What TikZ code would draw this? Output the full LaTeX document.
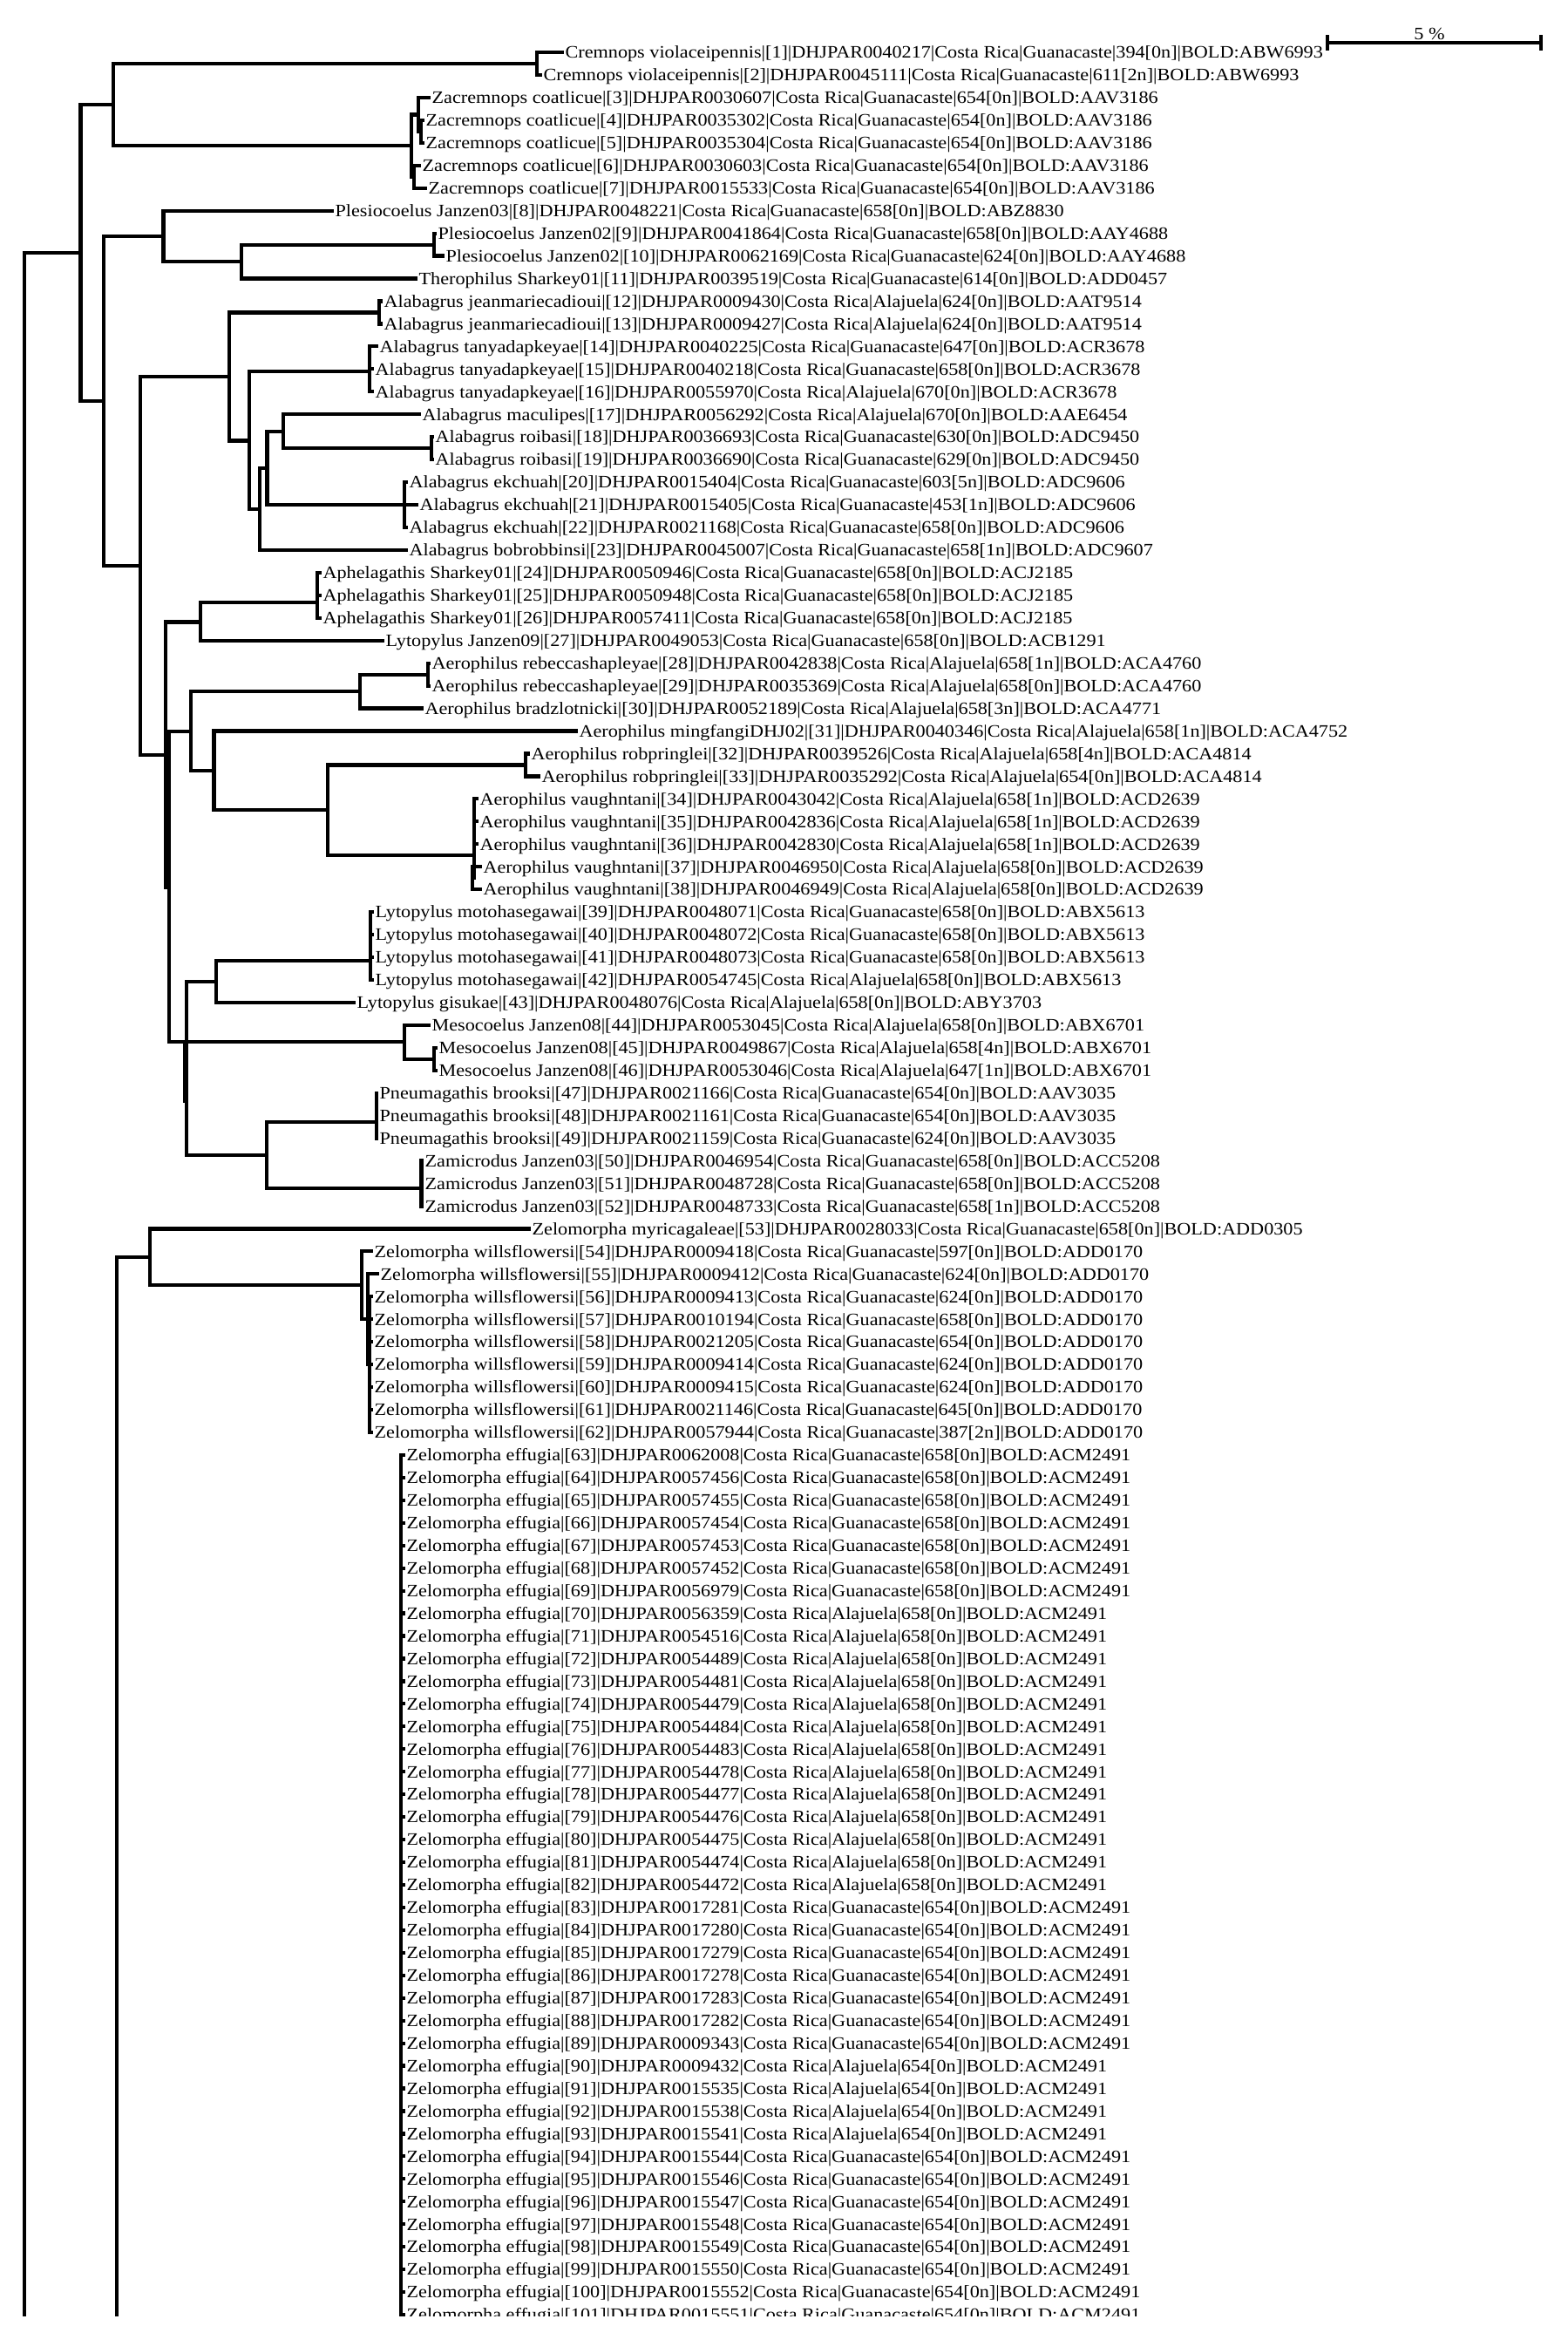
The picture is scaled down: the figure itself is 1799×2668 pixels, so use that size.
\documentclass[tikz,border=0pt]{standalone}
\usepackage{fontspec}
\setmainfont[FakeStretch=1.11]{Liberation Serif}
\newcommand\cgua{Costa Rica|Guanacaste}
\newcommand\calaj{Costa Rica|Alajuela}
\begin{document}
\begin{tikzpicture}[x=0.5pt,y=-0.5pt,
  declare function={ry(\i)=60+(\i-1)*25.95;},
  br/.style={line width=2.1pt,line cap=rect,line join=miter},
  leaf/.style={anchor=base west,inner sep=0pt,xshift=1.6pt,yshift=-3.4pt,font=\fontsize{10}{12}\selectfont},
  sblabel/.style={anchor=base,inner sep=0pt,font=\fontsize{10}{12}\selectfont}]
\path[use as bounding box] (0,0) rectangle (1799,2668);
\begin{scope}
\clip (0,0) rectangle (1799,2656);
% ---------- leaves ----------
\foreach \i/\x/\t in {
1/645/{Cremnops violaceipennis|[1]|DHJPAR0040217|\cgua|394[0n]|BOLD:ABW6993},
2/620/{Cremnops violaceipennis|[2]|DHJPAR0045111|\cgua|611[2n]|BOLD:ABW6993},
3/492/{Zacremnops coatlicue|[3]|DHJPAR0030607|\cgua|654[0n]|BOLD:AAV3186},
4/485/{Zacremnops coatlicue|[4]|DHJPAR0035302|\cgua|654[0n]|BOLD:AAV3186},
5/485/{Zacremnops coatlicue|[5]|DHJPAR0035304|\cgua|654[0n]|BOLD:AAV3186},
6/481/{Zacremnops coatlicue|[6]|DHJPAR0030603|\cgua|654[0n]|BOLD:AAV3186},
7/488/{Zacremnops coatlicue|[7]|DHJPAR0015533|\cgua|654[0n]|BOLD:AAV3186},
8/381/{Plesiocoelus Janzen03|[8]|DHJPAR0048221|\cgua|658[0n]|BOLD:ABZ8830},
9/499/{Plesiocoelus Janzen02|[9]|DHJPAR0041864|\cgua|658[0n]|BOLD:AAY4688},
10/508/{Plesiocoelus Janzen02|[10]|DHJPAR0062169|\cgua|624[0n]|BOLD:AAY4688},
11/477/{Therophilus Sharkey01|[11]|DHJPAR0039519|\cgua|614[0n]|BOLD:ADD0457},
12/437/{Alabagrus jeanmariecadioui|[12]|DHJPAR0009430|\calaj|624[0n]|BOLD:AAT9514},
13/437/{Alabagrus jeanmariecadioui|[13]|DHJPAR0009427|\calaj|624[0n]|BOLD:AAT9514},
14/432/{Alabagrus tanyadapkeyae|[14]|DHJPAR0040225|\cgua|647[0n]|BOLD:ACR3678},
15/427/{Alabagrus tanyadapkeyae|[15]|DHJPAR0040218|\cgua|658[0n]|BOLD:ACR3678},
16/427/{Alabagrus tanyadapkeyae|[16]|DHJPAR0055970|\calaj|670[0n]|BOLD:ACR3678},
17/481/{Alabagrus maculipes|[17]|DHJPAR0056292|\calaj|670[0n]|BOLD:AAE6454},
18/496/{Alabagrus roibasi|[18]|DHJPAR0036693|\cgua|630[0n]|BOLD:ADC9450},
19/496/{Alabagrus roibasi|[19]|DHJPAR0036690|\cgua|629[0n]|BOLD:ADC9450},
20/466/{Alabagrus ekchuah|[20]|DHJPAR0015404|\cgua|603[5n]|BOLD:ADC9606},
21/478/{Alabagrus ekchuah|[21]|DHJPAR0015405|\cgua|453[1n]|BOLD:ADC9606},
22/466/{Alabagrus ekchuah|[22]|DHJPAR0021168|\cgua|658[0n]|BOLD:ADC9606},
23/466/{Alabagrus bobrobbinsi|[23]|DHJPAR0045007|\cgua|658[1n]|BOLD:ADC9607},
24/367/{Aphelagathis Sharkey01|[24]|DHJPAR0050946|\cgua|658[0n]|BOLD:ACJ2185},
25/367/{Aphelagathis Sharkey01|[25]|DHJPAR0050948|\cgua|658[0n]|BOLD:ACJ2185},
26/367/{Aphelagathis Sharkey01|[26]|DHJPAR0057411|\cgua|658[0n]|BOLD:ACJ2185},
27/439/{Lytopylus Janzen09|[27]|DHJPAR0049053|\cgua|658[0n]|BOLD:ACB1291},
28/492/{Aerophilus rebeccashapleyae|[28]|DHJPAR0042838|\calaj|658[1n]|BOLD:ACA4760},
29/492/{Aerophilus rebeccashapleyae|[29]|DHJPAR0035369|\calaj|658[0n]|BOLD:ACA4760},
30/484/{Aerophilus bradzlotnicki|[30]|DHJPAR0052189|\calaj|658[3n]|BOLD:ACA4771},
31/661/{Aerophilus mingfangiDHJ02|[31]|DHJPAR0040346|\calaj|658[1n]|BOLD:ACA4752},
32/606/{Aerophilus robpringlei|[32]|DHJPAR0039526|\calaj|658[4n]|BOLD:ACA4814},
33/618/{Aerophilus robpringlei|[33]|DHJPAR0035292|\calaj|654[0n]|BOLD:ACA4814},
34/547/{Aerophilus vaughntani|[34]|DHJPAR0043042|\calaj|658[1n]|BOLD:ACD2639},
35/547/{Aerophilus vaughntani|[35]|DHJPAR0042836|\calaj|658[1n]|BOLD:ACD2639},
36/547/{Aerophilus vaughntani|[36]|DHJPAR0042830|\calaj|658[1n]|BOLD:ACD2639},
37/551/{Aerophilus vaughntani|[37]|DHJPAR0046950|\calaj|658[0n]|BOLD:ACD2639},
38/551/{Aerophilus vaughntani|[38]|DHJPAR0046949|\calaj|658[0n]|BOLD:ACD2639},
39/427/{Lytopylus motohasegawai|[39]|DHJPAR0048071|\cgua|658[0n]|BOLD:ABX5613},
40/427/{Lytopylus motohasegawai|[40]|DHJPAR0048072|\cgua|658[0n]|BOLD:ABX5613},
41/427/{Lytopylus motohasegawai|[41]|DHJPAR0048073|\cgua|658[0n]|BOLD:ABX5613},
42/427/{Lytopylus motohasegawai|[42]|DHJPAR0054745|\calaj|658[0n]|BOLD:ABX5613},
43/406/{Lytopylus gisukae|[43]|DHJPAR0048076|\calaj|658[0n]|BOLD:ABY3703},
44/492/{Mesocoelus Janzen08|[44]|DHJPAR0053045|\calaj|658[0n]|BOLD:ABX6701},
45/500/{Mesocoelus Janzen08|[45]|DHJPAR0049867|\calaj|658[4n]|BOLD:ABX6701},
46/500/{Mesocoelus Janzen08|[46]|DHJPAR0053046|\calaj|647[1n]|BOLD:ABX6701},
47/432/{Pneumagathis brooksi|[47]|DHJPAR0021166|\cgua|654[0n]|BOLD:AAV3035},
48/432/{Pneumagathis brooksi|[48]|DHJPAR0021161|\cgua|654[0n]|BOLD:AAV3035},
49/432/{Pneumagathis brooksi|[49]|DHJPAR0021159|\cgua|624[0n]|BOLD:AAV3035},
50/484/{Zamicrodus Janzen03|[50]|DHJPAR0046954|\cgua|658[0n]|BOLD:ACC5208},
51/484/{Zamicrodus Janzen03|[51]|DHJPAR0048728|\cgua|658[0n]|BOLD:ACC5208},
52/484/{Zamicrodus Janzen03|[52]|DHJPAR0048733|\cgua|658[1n]|BOLD:ACC5208},
53/607/{Zelomorpha myricagaleae|[53]|DHJPAR0028033|\cgua|658[0n]|BOLD:ADD0305},
54/426/{Zelomorpha willsflowersi|[54]|DHJPAR0009418|\cgua|597[0n]|BOLD:ADD0170},
55/433/{Zelomorpha willsflowersi|[55]|DHJPAR0009412|\cgua|624[0n]|BOLD:ADD0170},
56/426/{Zelomorpha willsflowersi|[56]|DHJPAR0009413|\cgua|624[0n]|BOLD:ADD0170},
57/426/{Zelomorpha willsflowersi|[57]|DHJPAR0010194|\cgua|658[0n]|BOLD:ADD0170},
58/426/{Zelomorpha willsflowersi|[58]|DHJPAR0021205|\cgua|654[0n]|BOLD:ADD0170},
59/426/{Zelomorpha willsflowersi|[59]|DHJPAR0009414|\cgua|624[0n]|BOLD:ADD0170},
60/426/{Zelomorpha willsflowersi|[60]|DHJPAR0009415|\cgua|624[0n]|BOLD:ADD0170},
61/426/{Zelomorpha willsflowersi|[61]|DHJPAR0021146|\cgua|645[0n]|BOLD:ADD0170},
62/426/{Zelomorpha willsflowersi|[62]|DHJPAR0057944|\cgua|387[2n]|BOLD:ADD0170},
63/463/{Zelomorpha effugia|[63]|DHJPAR0062008|\cgua|658[0n]|BOLD:ACM2491},
64/463/{Zelomorpha effugia|[64]|DHJPAR0057456|\cgua|658[0n]|BOLD:ACM2491},
65/463/{Zelomorpha effugia|[65]|DHJPAR0057455|\cgua|658[0n]|BOLD:ACM2491},
66/463/{Zelomorpha effugia|[66]|DHJPAR0057454|\cgua|658[0n]|BOLD:ACM2491},
67/463/{Zelomorpha effugia|[67]|DHJPAR0057453|\cgua|658[0n]|BOLD:ACM2491},
68/463/{Zelomorpha effugia|[68]|DHJPAR0057452|\cgua|658[0n]|BOLD:ACM2491},
69/463/{Zelomorpha effugia|[69]|DHJPAR0056979|\cgua|658[0n]|BOLD:ACM2491},
70/463/{Zelomorpha effugia|[70]|DHJPAR0056359|\calaj|658[0n]|BOLD:ACM2491},
71/463/{Zelomorpha effugia|[71]|DHJPAR0054516|\calaj|658[0n]|BOLD:ACM2491},
72/463/{Zelomorpha effugia|[72]|DHJPAR0054489|\calaj|658[0n]|BOLD:ACM2491},
73/463/{Zelomorpha effugia|[73]|DHJPAR0054481|\calaj|658[0n]|BOLD:ACM2491},
74/463/{Zelomorpha effugia|[74]|DHJPAR0054479|\calaj|658[0n]|BOLD:ACM2491},
75/463/{Zelomorpha effugia|[75]|DHJPAR0054484|\calaj|658[0n]|BOLD:ACM2491},
76/463/{Zelomorpha effugia|[76]|DHJPAR0054483|\calaj|658[0n]|BOLD:ACM2491},
77/463/{Zelomorpha effugia|[77]|DHJPAR0054478|\calaj|658[0n]|BOLD:ACM2491},
78/463/{Zelomorpha effugia|[78]|DHJPAR0054477|\calaj|658[0n]|BOLD:ACM2491},
79/463/{Zelomorpha effugia|[79]|DHJPAR0054476|\calaj|658[0n]|BOLD:ACM2491},
80/463/{Zelomorpha effugia|[80]|DHJPAR0054475|\calaj|658[0n]|BOLD:ACM2491},
81/463/{Zelomorpha effugia|[81]|DHJPAR0054474|\calaj|658[0n]|BOLD:ACM2491},
82/463/{Zelomorpha effugia|[82]|DHJPAR0054472|\calaj|658[0n]|BOLD:ACM2491},
83/463/{Zelomorpha effugia|[83]|DHJPAR0017281|\cgua|654[0n]|BOLD:ACM2491},
84/463/{Zelomorpha effugia|[84]|DHJPAR0017280|\cgua|654[0n]|BOLD:ACM2491},
85/463/{Zelomorpha effugia|[85]|DHJPAR0017279|\cgua|654[0n]|BOLD:ACM2491},
86/463/{Zelomorpha effugia|[86]|DHJPAR0017278|\cgua|654[0n]|BOLD:ACM2491},
87/463/{Zelomorpha effugia|[87]|DHJPAR0017283|\cgua|654[0n]|BOLD:ACM2491},
88/463/{Zelomorpha effugia|[88]|DHJPAR0017282|\cgua|654[0n]|BOLD:ACM2491},
89/463/{Zelomorpha effugia|[89]|DHJPAR0009343|\cgua|654[0n]|BOLD:ACM2491},
90/463/{Zelomorpha effugia|[90]|DHJPAR0009432|\calaj|654[0n]|BOLD:ACM2491},
91/463/{Zelomorpha effugia|[91]|DHJPAR0015535|\calaj|654[0n]|BOLD:ACM2491},
92/463/{Zelomorpha effugia|[92]|DHJPAR0015538|\calaj|654[0n]|BOLD:ACM2491},
93/463/{Zelomorpha effugia|[93]|DHJPAR0015541|\calaj|654[0n]|BOLD:ACM2491},
94/463/{Zelomorpha effugia|[94]|DHJPAR0015544|\cgua|654[0n]|BOLD:ACM2491},
95/463/{Zelomorpha effugia|[95]|DHJPAR0015546|\cgua|654[0n]|BOLD:ACM2491},
96/463/{Zelomorpha effugia|[96]|DHJPAR0015547|\cgua|654[0n]|BOLD:ACM2491},
97/463/{Zelomorpha effugia|[97]|DHJPAR0015548|\cgua|654[0n]|BOLD:ACM2491},
98/463/{Zelomorpha effugia|[98]|DHJPAR0015549|\cgua|654[0n]|BOLD:ACM2491},
99/463/{Zelomorpha effugia|[99]|DHJPAR0015550|\cgua|654[0n]|BOLD:ACM2491},
100/463/{Zelomorpha effugia|[100]|DHJPAR0015552|\cgua|654[0n]|BOLD:ACM2491},
101/463/{Zelomorpha effugia|[101]|DHJPAR0015551|\cgua|654[0n]|BOLD:ACM2491}}{
  \coordinate (L\i) at (\x,{ry(\i)});
  \node[leaf] (T\i) at (L\i) {\t};
}
% ---------- internal nodes ----------
\coordinate (R) at (27.7,290);   \coordinate (Rbot) at (27.7,2700);
\coordinate (A) at (92.4,290);
\coordinate (B) at (130,120);
\coordinate (Cr) at (616,73);
\coordinate (Z1) at (472,167);
\coordinate (Z2) at (480,131.4);
\coordinate (Z4) at (483,150.8);
\coordinate (Z3) at (475,202.7);
\coordinate (C) at (119,460);
\coordinate (P) at (187.5,270.8);
\coordinate (P2) at (276.8,300);
\coordinate (P3) at (497.8,280.6);
\coordinate (E) at (161,649);
\coordinate (F) at (263,432);
\coordinate (J) at (435,358.4);
\coordinate (F2) at (286,505.5);
\coordinate (Ta) at (424,426);
\coordinate (F3) at (298,584);
\coordinate (F4) at (306.5,537);
\coordinate (F5) at (325,495);
\coordinate (Ro) at (494.6,514.1);
\coordinate (EK) at (464,579);
\coordinate (G) at (190,866);
\coordinate (AL) at (230,713.5);
\coordinate (Aph) at (364,690.7);
\coordinate (G2) at (194,1018);
\coordinate (H) at (219,839);
\coordinate (AR) at (413,793);
\coordinate (RB) at (491,773.6);
\coordinate (H2) at (245.5,883.8);
\coordinate (H3) at (376,929);
\coordinate (RP) at (603,877.4);
\coordinate (V) at (544,981);
\coordinate (V2) at (542,1007.2);
\coordinate (M) at (212,1195.3);
\coordinate (Kj) at (214,1263);
\coordinate (K) at (214,1226);
\coordinate (LM) at (248,1126);
\coordinate (LMo) at (425,1101.7);
\coordinate (MS) at (464,1195.3);
\coordinate (MS2) at (498,1214.8);
\coordinate (PZ) at (306,1325);
\coordinate (Pn) at (432,1287);
\coordinate (Zm) at (483.5,1363);
\coordinate (D) at (134,1441.7);  \coordinate (Dbot) at (134,2700);
\coordinate (Zn) at (172,1441.7);
\coordinate (W) at (415,1474.3);
\coordinate (W2) at (422,1513.2);
\coordinate (W3) at (424,1565.1);
\coordinate (EF) at (460,2700);
% ---------- branches ----------
\draw[br] (R) -- (Rbot);
\draw[br] (R) |- (A);
\draw[br] (A) |- (B);  \draw[br] (A) |- (C);
\draw[br] (B) |- (Cr); \draw[br] (B) |- (Z1);
\draw[br] (Cr) |- (L1); \draw[br] (Cr) |- (L2);
\draw[br] (Z1) |- (Z2); \draw[br] (Z1) |- (Z3);
\draw[br] (Z2) |- (L3); \draw[br] (Z2) |- (Z4);
\draw[br] (Z4) |- (L4); \draw[br] (Z4) |- (L5);
\draw[br] (Z3) |- (L6); \draw[br] (Z3) |- (L7);
\draw[br] (C) |- (P); \draw[br] (C) |- (E);
\draw[br] (P) |- (L8); \draw[br] (P) |- (P2);
\draw[br] (P2) |- (P3); \draw[br] (P2) |- (L11);
\draw[br] (P3) |- (L9); \draw[br] (P3) |- (L10);
\draw[br] (E) |- (F); \draw[br] (E) |- (G);
\draw[br] (F) |- (J); \draw[br] (F) |- (F2);
\draw[br] (J) |- (L12); \draw[br] (J) |- (L13);
\draw[br] (F2) |- (Ta); \draw[br] (F2) |- (F3);
\foreach \i in {14,15,16} \draw[br] (Ta) |- (L\i);
\draw[br] (F3) |- (F4); \draw[br] (F3) |- (L23);
\draw[br] (F4) |- (F5); \draw[br] (F4) |- (EK);
\draw[br] (F5) |- (L17); \draw[br] (F5) |- (Ro);
\draw[br] (Ro) |- (L18); \draw[br] (Ro) |- (L19);
\foreach \i in {20,21,22} \draw[br] (EK) |- (L\i);
\draw[br] (G) |- (AL); \draw[br] (G) |- (G2);
\draw[br] (AL) |- (Aph); \draw[br] (AL) |- (L27);
\foreach \i in {24,25,26} \draw[br] (Aph) |- (L\i);
\draw[br] (G2) |- (H); \draw[br] (G2) |- (M);
\draw[br] (H) |- (AR); \draw[br] (H) |- (H2);
\draw[br] (AR) |- (RB); \draw[br] (AR) |- (L30);
\draw[br] (RB) |- (L28); \draw[br] (RB) |- (L29);
\draw[br] (H2) |- (L31); \draw[br] (H2) |- (H3);
\draw[br] (H3) |- (RP); \draw[br] (H3) |- (V);
\draw[br] (RP) |- (L32); \draw[br] (RP) |- (L33);
\foreach \i in {34,35,36} \draw[br] (V) |- (L\i);
\draw[br] (V) |- (V2);
\draw[br] (V2) |- (L37); \draw[br] (V2) |- (L38);
\draw[br] (M) |- (MS); \draw[br] (M) |- (Kj);
\draw[br] (K) |- (LM); \draw[br] (K) |- (PZ);
\draw[br] (LM) |- (LMo); \draw[br] (LM) |- (L43);
\foreach \i in {39,40,41,42} \draw[br] (LMo) |- (L\i);
\draw[br] (MS) |- (L44); \draw[br] (MS) |- (MS2);
\draw[br] (MS2) |- (L45); \draw[br] (MS2) |- (L46);
\draw[br] (PZ) |- (Pn); \draw[br] (PZ) |- (Zm);
\foreach \i in {47,48,49} \draw[br] (Pn) |- (L\i);
\foreach \i in {50,51,52} \draw[br] (Zm) |- (L\i);
\draw[br] (D) -- (Dbot); \draw[br] (D) -- (Zn);
\draw[br] (Zn) |- (L53); \draw[br] (Zn) |- (W);
\draw[br] (W) |- (L54); \draw[br] (W) |- (W2);
\draw[br] (W2) |- (L55); \draw[br] (W2) |- (W3);
\foreach \i in {56,...,62} \draw[br] (W3) |- (L\i);
\foreach \i in {63,...,101} \draw[br] (EF) |- (L\i);
\end{scope}
% ---------- scale bar ----------
\coordinate (S1) at (1522.7,49.3);
\coordinate (S2) at (1768,49.3);
\draw[br,line cap=butt] (S1) -- (S2);
\draw[line width=1.8pt] (S1) ++(0,-9.3) -- ++(0,17.5);
\draw[line width=1.8pt] (S2) ++(0,-9.3) -- ++(0,17.5);
\node[sblabel] (SB) at (1640,45) {5 \%};
\end{tikzpicture}
\end{document}
